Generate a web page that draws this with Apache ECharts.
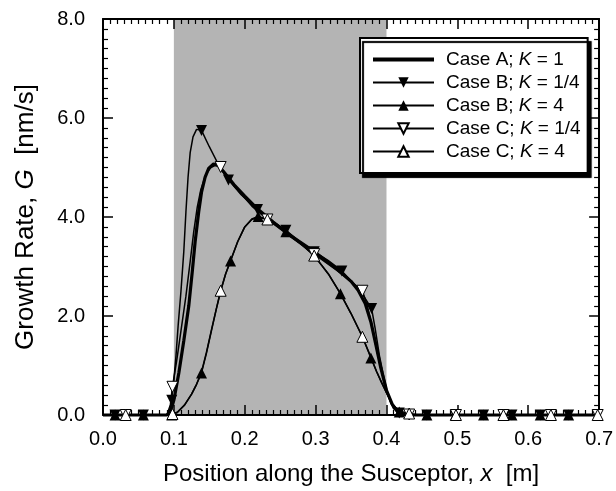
<!DOCTYPE html>
<html><head><meta charset="utf-8">
<script src="https://cdn.jsdelivr.net/npm/echarts@6/dist/echarts.min.js"></script>
<style>html,body{margin:0;padding:0;background:#fff}#c{width:616px;height:491px}</style>
</head><body><div id="c"></div>
<script>
// ---------- data ----------
const seriesNames = ['Case A; K = 1', 'Case B; K = 1/4', 'Case B; K = 4', 'Case C; K = 1/4', 'Case C; K = 4'];
const susceptorRange = [0.1, 0.4];
const xTickValues = [0, 0.1, 0.2, 0.3, 0.4, 0.5, 0.6, 0.7];
const yTickValues = [0, 2, 4, 6, 8];

// Case A; K = 1 (thick line, no markers)
const aX = [0, 0.09, 0.095, 0.1, 0.107, 0.114, 0.121, 0.126, 0.13, 0.135, 0.139, 0.144, 0.149, 0.156, 0.162, 0.17, 0.185, 0.2, 0.219, 0.24, 0.265, 0.298, 0.33, 0.35, 0.36, 0.37, 0.378, 0.385, 0.392, 0.4, 0.408, 0.415, 0.425, 0.435, 0.7];
const aY = [0, 0, 0.05, 0.3, 0.85, 1.5, 2.2, 2.9, 3.5, 4.1, 4.5, 4.8, 4.98, 5.07, 5.05, 4.92, 4.65, 4.42, 4.15, 3.9, 3.62, 3.3, 2.95, 2.7, 2.52, 2.25, 1.88, 1.42, 0.95, 0.5, 0.22, 0.08, 0.01, 0, 0];
const aMarks = [];

// Case B; K = 1/4 (filled down triangles)
const bqX = [0, 0.017, 0.057, 0.09, 0.094, 0.097, 0.1, 0.103, 0.106, 0.11, 0.114, 0.117, 0.12, 0.123, 0.127, 0.132, 0.139, 0.15, 0.165, 0.177, 0.195, 0.218, 0.238, 0.258, 0.278, 0.298, 0.318, 0.337, 0.357, 0.367, 0.379, 0.384, 0.39, 0.395, 0.4, 0.405, 0.41, 0.418, 0.425, 0.457, 0.497, 0.537, 0.577, 0.617, 0.657, 0.7];
const bqY = [0, 0, 0, 0, 0.1, 0.3, 0.7, 1.2, 1.8, 2.5, 3.3, 4.1, 4.8, 5.3, 5.62, 5.77, 5.75, 5.42, 5.0, 4.75, 4.45, 4.15, 3.92, 3.73, 3.5, 3.3, 3.12, 2.91, 2.6, 2.42, 2.15, 1.75, 1.2, 0.85, 0.52, 0.28, 0.13, 0.04, 0, 0, 0, 0, 0, 0, 0, 0];
const bqMarks = [0.017, 0.057, 0.097, 0.139, 0.177, 0.218, 0.258, 0.298, 0.337, 0.379, 0.418, 0.457, 0.497, 0.537, 0.577, 0.617, 0.657];

// Case B; K = 4 (filled up triangles)
const b4X = [0, 0.017, 0.057, 0.097, 0.105, 0.115, 0.125, 0.132, 0.139, 0.146, 0.153, 0.16, 0.166, 0.173, 0.18, 0.19, 0.2, 0.21, 0.219, 0.232, 0.245, 0.258, 0.278, 0.298, 0.318, 0.335, 0.35, 0.366, 0.378, 0.386, 0.393, 0.4, 0.408, 0.418, 0.428, 0.457, 0.497, 0.537, 0.577, 0.617, 0.657, 0.7];
const b4Y = [0, 0, 0, 0, 0.05, 0.2, 0.42, 0.62, 0.85, 1.25, 1.7, 2.15, 2.5, 2.85, 3.11, 3.5, 3.8, 3.96, 4.01, 3.95, 3.85, 3.7, 3.48, 3.22, 2.85, 2.45, 2.05, 1.58, 1.15, 0.88, 0.66, 0.45, 0.22, 0.06, 0, 0, 0, 0, 0, 0, 0, 0];
const b4Marks = [0.017, 0.057, 0.097, 0.139, 0.18, 0.219, 0.258, 0.298, 0.335, 0.378, 0.418, 0.457, 0.497, 0.537, 0.577, 0.617, 0.657];

// Case C; K = 1/4 (open down triangles)
const cqX = [0, 0.032, 0.09, 0.095, 0.098, 0.104, 0.11, 0.117, 0.123, 0.128, 0.133, 0.138, 0.145, 0.152, 0.158, 0.166, 0.175, 0.19, 0.21, 0.232, 0.265, 0.298, 0.33, 0.35, 0.366, 0.372, 0.378, 0.385, 0.392, 0.4, 0.408, 0.415, 0.425, 0.432, 0.44, 0.498, 0.565, 0.632, 0.698, 0.7];
const cqY = [0, 0, 0, 0.2, 0.57, 1.1, 1.7, 2.4, 3.1, 3.7, 4.2, 4.55, 4.85, 5.0, 5.04, 5.01, 4.82, 4.55, 4.22, 3.95, 3.6, 3.25, 2.92, 2.7, 2.51, 2.25, 1.9, 1.4, 0.95, 0.5, 0.22, 0.08, 0.02, 0.01, 0, 0, 0, 0, 0, 0];
const cqMarks = [0.032, 0.098, 0.166, 0.232, 0.298, 0.366, 0.432, 0.498, 0.565, 0.632, 0.698];

// Case C; K = 4 (open up triangles)
const c4X = [0, 0.032, 0.09, 0.098, 0.105, 0.115, 0.125, 0.132, 0.139, 0.146, 0.153, 0.16, 0.166, 0.173, 0.18, 0.19, 0.2, 0.21, 0.22, 0.232, 0.245, 0.258, 0.278, 0.298, 0.318, 0.335, 0.35, 0.366, 0.378, 0.386, 0.393, 0.4, 0.408, 0.418, 0.432, 0.445, 0.498, 0.565, 0.632, 0.698, 0.7];
const c4Y = [0, 0, 0, 0.02, 0.06, 0.2, 0.42, 0.62, 0.87, 1.27, 1.72, 2.15, 2.51, 2.85, 3.12, 3.5, 3.8, 3.95, 4.0, 3.95, 3.85, 3.7, 3.47, 3.22, 2.85, 2.45, 2.05, 1.58, 1.17, 0.88, 0.66, 0.45, 0.22, 0.08, 0.03, 0, 0, 0, 0, 0, 0];
const c4Marks = [0.032, 0.098, 0.166, 0.232, 0.298, 0.366, 0.432, 0.498, 0.565, 0.632, 0.698];

// ---------- chart ----------
const FONT = '"Liberation Sans", Arial, Helvetica, sans-serif';
const DOWN = 'path://M0,0L10,0L5,10Z';
const UP = 'triangle';

function build(xs, ys, marks) {
  return xs.map((x, i) => marks.indexOf(x) >= 0 ? [x, ys[i]] : { value: [x, ys[i]], symbol: 'none' });
}
function lineSeries(name, xs, ys, marks, symbol, fill, width) {
  return {
    name: name, type: 'line', z: 3, clip: false, animation: false,
    data: build(xs, ys, marks),
    symbol: symbol, symbolSize: 11, showAllSymbol: true,
    itemStyle: { color: fill, borderColor: '#000', borderWidth: fill === '#fff' ? 1 : 0 },
    lineStyle: { color: '#000', width: width },
    emphasis: { disabled: true }
  };
}

const chart = echarts.init(document.getElementById('c'), null, { renderer: 'canvas' });
const axisCommon = {
  type: 'value', z: 2,
  axisLine: { show: true, onZero: false, lineStyle: { color: '#000', width: 2 } },
  axisTick: { show: true, inside: true, length: 10, lineStyle: { color: '#000', width: 1.5 } },
  minorTick: { show: true, splitNumber: 10, length: 5, lineStyle: { color: '#000', width: 1.2 } },
  splitLine: { show: false }, minorSplitLine: { show: false }
};
const lbl = { color: '#000', fontFamily: FONT, fontSize: 20 };

chart.setOption({
  animation: false,
  backgroundColor: '#fff',
  grid: { left: 103, right: 12, top: 19, bottom: 72 },
  xAxis: [
    Object.assign({}, axisCommon, {
      position: 'bottom', min: xTickValues[0], max: xTickValues[xTickValues.length - 1], interval: 0.1,
      axisLabel: Object.assign({ margin: 14, formatter: v => v.toFixed(1) }, lbl),
      name: 'Position along the Susceptor, {i|x}  [m]', nameLocation: 'middle', nameGap: 47,
      nameTextStyle: { color: '#000', fontFamily: FONT, fontSize: 24, rich: { i: { fontStyle: 'italic', fontFamily: FONT, fontSize: 24, color: '#000' } } }
    }),
    Object.assign({}, axisCommon, {
      position: 'top', min: xTickValues[0], max: xTickValues[xTickValues.length - 1], interval: 0.1,
      axisLabel: { show: false }
    })
  ],
  yAxis: [
    Object.assign({}, axisCommon, {
      position: 'left', min: yTickValues[0], max: yTickValues[yTickValues.length - 1], interval: 2,
      axisLabel: Object.assign({ margin: 18, formatter: v => v.toFixed(1) }, lbl),
      name: 'Growth Rate, {i|G}  [nm/s]', nameLocation: 'middle', nameGap: 64,
      nameTextStyle: { color: '#000', fontFamily: FONT, fontSize: 26, rich: { i: { fontStyle: 'italic', fontFamily: FONT, fontSize: 26, color: '#000' } } }
    }),
    Object.assign({}, axisCommon, {
      position: 'right', min: yTickValues[0], max: yTickValues[yTickValues.length - 1], interval: 2,
      axisLabel: { show: false }
    })
  ],
  legend: {
    orient: 'vertical', left: 360, top: 38, selectedMode: false,
    padding: [12, 7, 12, 12], itemWidth: 61, itemHeight: 13, itemGap: 4,
    backgroundColor: '#fff', borderColor: '#000', borderWidth: 2,
    shadowColor: '#000', shadowBlur: 1, shadowOffsetX: 3, shadowOffsetY: 4,
    data: [
      { name: seriesNames[0], icon: 'path://M0,0L60,0L60,4L0,4Z' },
      seriesNames[1], seriesNames[2], seriesNames[3], seriesNames[4]
    ],
    formatter: n => n.replace('K', '{i|K}'),
    textStyle: { color: '#000', fontFamily: FONT, fontSize: 19, padding: [0, 0, 0, 7],
      rich: { i: { fontStyle: 'italic', fontFamily: FONT, fontSize: 19, color: '#000' } } }
  },
  series: [
    { name: 'shade', type: 'line', data: [], z: 1, silent: true,
      markArea: { silent: true, itemStyle: { color: '#b4b4b4' },
        data: [[{ xAxis: susceptorRange[0] }, { xAxis: susceptorRange[1] }]] } },
    lineSeries(seriesNames[0], aX, aY, aMarks, 'none', '#000', 3.2),
    lineSeries(seriesNames[1], bqX, bqY, bqMarks, DOWN, '#000', 1.5),
    lineSeries(seriesNames[2], b4X, b4Y, b4Marks, UP, '#000', 1.5),
    lineSeries(seriesNames[3], cqX, cqY, cqMarks, DOWN, '#fff', 1.5),
    lineSeries(seriesNames[4], c4X, c4Y, c4Marks, UP, '#fff', 1.5)
  ]
});
</script></body></html>
